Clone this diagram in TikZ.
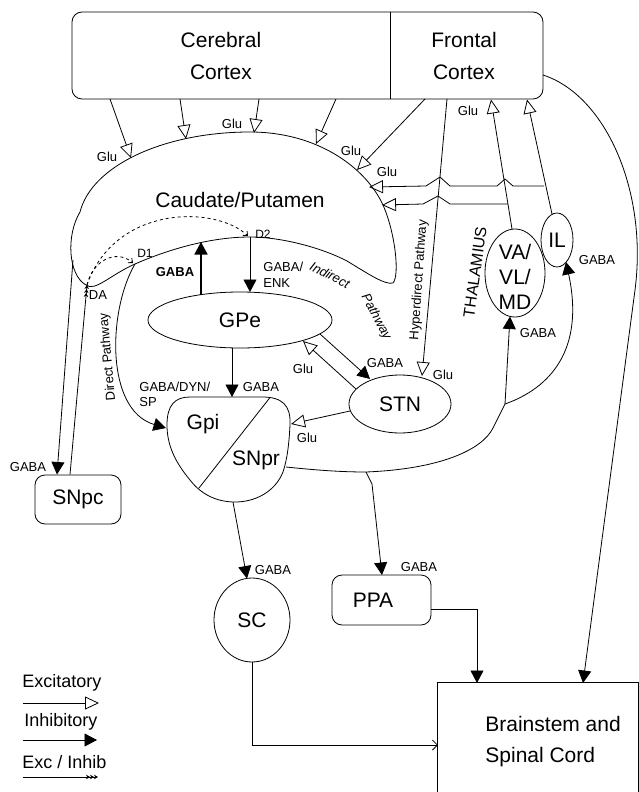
\documentclass[tikz,border=0pt]{standalone}
\usepackage{fontspec}
\setmainfont{Liberation Sans}
\usetikzlibrary{arrows.meta,shapes.geometric}
\begin{document}
\begin{tikzpicture}[x=1pt,y=-1pt,line width=0.8pt,
  big/.style={font=\fontsize{21}{25}\selectfont,inner sep=0pt},
  lbl/.style={font=\fontsize{13}{15.5}\selectfont,inner sep=0pt},
  leg/.style={font=\fontsize{18}{20}\selectfont,inner sep=0pt,anchor=west},
  exc/.style={-{Triangle[open,length=14pt,width=13pt]}},
  inh/.style={-{Triangle[length=12.5pt,width=13pt]}},
  ei/.style={-{Stealth[length=4pt,width=4.5pt]Stealth[length=4pt,width=4.5pt]Stealth[length=4pt,width=4.5pt]}},
  dsh/.style={dashed,-{Straight Barb[length=3.5pt,width=6pt]}},
  sbarb/.style={-{Straight Barb[length=5pt,width=10pt]}},
  ell/.style={draw,ellipse,inner sep=0pt},
  rbox/.style={draw,rounded corners=10pt,inner sep=0pt},
]
\useasboundingbox (0,0) rectangle (639,792);

% ---------- cortex ----------
\node[rbox,minimum width=471pt,minimum height=87pt] (cortex) at (307.5,55.5) {};
\coordinate (divT) at (390,12);
\coordinate (divB) at (390,99);
\draw (divT) -- (divB);
\node[big,align=center,font=\fontsize{21}{32}\selectfont] (cerebral) at (221,56) {Cerebral\\Cortex};
\node[big,align=center,font=\fontsize{21}{32}\selectfont] (frontal) at (464,56) {Frontal\\Cortex};

% ---------- caudate / putamen ----------
\draw (86,285) .. controls (68,275) and (66,235) .. (80,212)
  .. controls (92,165) and (165,132) .. (250,132)
  .. controls (318,132) and (366,168) .. (383,205)
  .. controls (395,232) and (400,275) .. (393,283)
  .. controls (385,285) and (370,275) .. (347,261)
  .. controls (320,247) and (280,237) .. (250,237)
  .. controls (205,237) and (160,253) .. (135,264)
  .. controls (110,275) and (95,292) .. (86,285) -- cycle;
\node[big] (caud) at (240,200) {Caudate/Putamen};

% ---------- other nuclei ----------
\node[ell,big,minimum width=184pt,minimum height=56pt] (gpe) at (240,320) {GPe};
\node[ell,big,minimum width=102pt,minimum height=58pt] (stn) at (400,404) {STN};
\node[ell,minimum width=60pt,minimum height=88pt] (va) at (515,273) {};
\node[big,align=center] (vatxt) at (515,277) {VA/\\VL/\\MD};
\node[ell,big,minimum width=32pt,minimum height=54pt] (il) at (557,240) {IL};
\node[ell,big,minimum width=76pt,minimum height=84pt] (sc) at (252,620) {SC};
\node[rbox,big,minimum width=86pt,minimum height=49pt] (snpc) at (78,499.5) {SNpc};
\node[rbox,minimum width=99pt,minimum height=50pt] (ppa) at (381.5,600) {};
\node[big] (ppatxt) at (373,600) {PPA};
\node[minimum width=200pt,minimum height=109pt,inner sep=0pt] (brain) at (538,737.5) {};
\draw (brain.south west) -- (brain.north west) -- (brain.north east) -- (brain.south east);
\node[big,align=left,anchor=west,font=\fontsize{21}{31}\selectfont] (braintxt) at (485,742) {Brainstem and\\Spinal Cord};

% Gpi / SNpr
\draw (190,397) -- (262,397) .. controls (282,397) and (291,405) .. (290,425)
  .. controls (289,445) and (287,460) .. (283,472)
  .. controls (275,492) and (255,502) .. (235,502)
  .. controls (215,502) and (200,493) .. (190,480)
  .. controls (175,462) and (167,445) .. (167,425)
  .. controls (167,405) and (175,397) .. (190,397) -- cycle;
\coordinate (diagA) at (270,397.5);
\coordinate (diagB) at (199,488);
\draw (diagA) -- (diagB);
\node[big] (gpi) at (203,424) {Gpi};
\node[big] (snpr) at (256,460) {SNpr};

% ---------- cortex -> striatum ----------
\coordinate (c1s) at (110,99);  \coordinate (c1e) at (131,158);
\coordinate (c2s) at (180,99);  \coordinate (c2e) at (186,139);
\coordinate (c3s) at (259,99);  \coordinate (c3e) at (254,133);
\coordinate (c4s) at (336,99);  \coordinate (c4e) at (316,144);
\coordinate (c5s) at (425,99);  \coordinate (c5e) at (357,170);
\draw[exc] (c1s) -- (c1e);
\draw[exc] (c2s) -- (c2e);
\draw[exc] (c3s) -- (c3e);
\draw[exc] (c4s) -- (c4e);
\draw[exc] (c5s) -- (c5e);

% hyperdirect
\coordinate (hS) at (447,99);  \coordinate (hE) at (422,376);
\draw[exc] (hS) -- (hE);

% thalamus -> cortex
\coordinate (vaT) at (512,229);  \coordinate (vaF) at (491,99.5);
\coordinate (ilT) at (552,214);  \coordinate (ilF) at (527,99.5);
\draw[exc] (vaT) -- (vaF);
\draw[exc] (ilT) -- (ilF);

% thalamus -> striatum
\coordinate (tuS) at (544,186);  \coordinate (tuE) at (369,187);
\coordinate (tlS) at (508,204);  \coordinate (tlE) at (382,205);
\draw[exc] (tuS) -- (513,186) -- (505,179) -- (497,186) -- (450,186) -- (440,177) -- (426,186) -- (tuE);
\draw[exc] (tlS) -- (450,204) -- (438,196) -- (423,204) -- (tlE);

% striatum <-> GPe
\coordinate (gpeU) at (201,295);  \coordinate (caudU) at (201,242);
\draw[inh,line width=1.6pt] (gpeU) -- (caudU);
\coordinate (caudD) at (250,237);  \coordinate (gpeD) at (250,292);
\draw[inh] (caudD) -- (gpeD);

% GPe -> Gpi
\coordinate (gpeB) at (232,348);  \coordinate (gpiT) at (232,397);
\draw[inh] (gpeB) -- (gpiT);

% direct pathway
\coordinate (d1) at (135,264);  \coordinate (gpiL) at (166,428);
\draw[inh] (d1) .. controls (108,310) and (105,410) .. (gpiL);

% striatum <-> SNpc
\coordinate (caudL) at (73,260);  \coordinate (snpcT1) at (57,474.5);
\draw[inh] (caudL) -- (snpcT1);
\coordinate (snpcT2) at (70,474.5);  \coordinate (caudTip) at (87,285);
\draw[ei] (snpcT2) -- (caudTip);
\coordinate (d1e) at (133,263);  \coordinate (d2e) at (248,236);
\draw[dsh] (caudTip) .. controls (92,262) and (115,248) .. (d1e);
\draw[dsh] (caudTip) .. controls (115,205) and (215,205) .. (d2e);

% GPe <-> STN
\coordinate (gpeS) at (320,334);  \coordinate (stnG) at (370,379);
\draw[inh] (gpeS) -- (stnG);
\coordinate (stnE) at (356,389);  \coordinate (gpeE) at (303,341);
\draw[exc] (stnE) -- (gpeE);
\coordinate (stnL) at (350,411);  \coordinate (gpiR) at (291,424);
\draw[exc] (stnL) -- (gpiR);

% SNpr outputs
\coordinate (snprR) at (286,467);
\coordinate (brP) at (366,472);
\coordinate (jTh) at (505,404);
\coordinate (vaB) at (510,316.5);
\coordinate (ilB) at (566,262);
\coordinate (ppaT) at (382,575);
\draw (snprR) .. controls (315,470) and (340,472) .. (brP)
  .. controls (440,469) and (482,450) .. (493,428) -- (jTh);
\draw[inh] (jTh) -- (vaB);
\draw[inh] (jTh) .. controls (550,388) and (585,350) .. (ilB);
\draw[inh] (brP) -- (372,484) -- (ppaT);
\coordinate (snprB) at (233,502);  \coordinate (scT) at (247,578.5);
\draw[inh] (snprB) -- (scT);

% to brainstem
\coordinate (brainL) at (438,745);
\draw[sbarb] (sc.south) |- (brainL);
\coordinate (ppaR) at (431,609);  \coordinate (brainT1) at (477,683);
\draw[inh] (ppaR) -| (brainT1);
\coordinate (frontR) at (543,75);  \coordinate (brainT2) at (583,683);
\draw[inh] (frontR) .. controls (605,95) and (648,190) .. (635,290) -- (brainT2);

% ---------- labels ----------
\node[lbl] (g1) at (107,157) {Glu};
\node[lbl] (g2) at (232,124) {Glu};
\node[lbl] (g3) at (351,151) {Glu};
\node[lbl] (g4) at (387,172) {Glu};
\node[lbl] (g5) at (468,111) {Glu};
\node[lbl] (g6) at (303,369) {Glu};
\node[lbl] (g7) at (443,375) {Glu};
\node[lbl] (g8) at (307,438) {Glu};
\node[lbl,font=\fontsize{13}{15.5}\selectfont\bfseries] (gb1) at (175,272) {GABA};
\node[lbl,anchor=west,align=left,font=\fontsize{13}{16}\selectfont] (genk) at (263,275) {GABA/\\ENK};
\node[lbl,anchor=west,align=left,font=\fontsize{13}{15}\selectfont] (gdyn) at (139,394) {GABA/DYN/\\SP};
\node[lbl] (gb2) at (261,387) {GABA};
\node[lbl] (gb3) at (385,363) {GABA};
\node[lbl] (gb4) at (28,467) {GABA};
\node[lbl] (gb5) at (538,333) {GABA};
\node[lbl] (gb6) at (597,260) {GABA};
\node[lbl] (gb7) at (273,570) {GABA};
\node[lbl] (gb8) at (419,567) {GABA};
\node[lbl,font=\fontsize{12}{14}\selectfont] (d1t) at (145,253) {D1};
\node[lbl,font=\fontsize{12}{14}\selectfont] (d2t) at (263,234) {D2};
\node[lbl] (dat) at (98,295) {DA};
\node[lbl,rotate=95] (dirtxt) at (108,357) {Direct Pathway};
\node[lbl,rotate=86] (hyptxt) at (419,280) {Hyperdirect Pathway};
\node[font=\fontsize{16}{16}\selectfont,inner sep=0pt,rotate=82] (thal) at (475,272) {THALAMIUS};
\node[lbl,font=\fontsize{13}{15}\selectfont\itshape,rotate=-27] (ind1) at (330,275) {Indirect};
\node[lbl,font=\fontsize{13}{15}\selectfont\itshape,rotate=-62] (ind2) at (376,317) {Pathway};

% ---------- legend ----------
\node[leg] (lgE) at (22,683) {Excitatory};
\coordinate (lgE1) at (23,703);  \coordinate (lgE2) at (99,703);
\draw[exc] (lgE1) -- (lgE2);
\node[leg] (lgI) at (24,722) {Inhibitory};
\coordinate (lgI1) at (23,740);  \coordinate (lgI2) at (97,740);
\draw[inh] (lgI1) -- (lgI2);
\node[leg] (lgX) at (22,762) {Exc / Inhib};
\coordinate (lgX1) at (23,777);  \coordinate (lgX2) at (98,777);
\draw[ei] (lgX1) -- (lgX2);
\end{tikzpicture}
\end{document}
